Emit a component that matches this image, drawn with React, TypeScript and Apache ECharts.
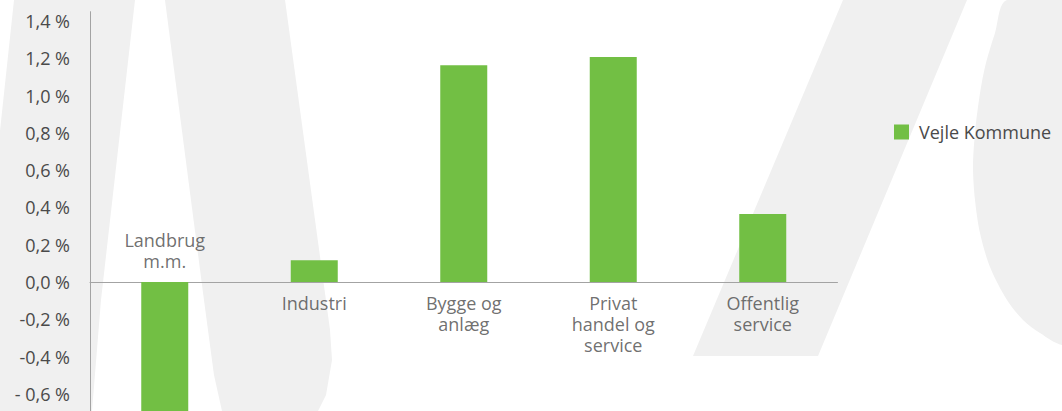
import React, { useEffect, useRef } from "react";
import * as echarts from "echarts";

const categories = ["Landbrug\nm.m.", "Industri", "Bygge og\nanlæg", "Privat\nhandel og\nservice", "Offentlig\nservice"];
const seriesName = "Vejle Kommune";
const values = [-0.76, 0.116, 1.163, 1.207, 0.365];
const yTickValues = [-0.6, -0.4, -0.2, 0.0, 0.2, 0.4, 0.6, 0.8, 1.0, 1.2, 1.4];
const yTickLabels = ["- 0,6 %", "-0,4 %", "-0,2 %", "0,0 %", "0,2 %", "0,4 %", "0,6 %", "0,8 %", "1,0 %", "1,2 %", "1,4 %"];

const FONT = "'Open Sans', 'Noto Sans', sans-serif";
const TEXT = "#4a4a4a";
const GREEN = "#72bf44";
const AXIS = "#a3a3a3";
const WM = "#f0f0f0";

export default function App() {
  const ref = useRef<HTMLDivElement>(null);
  useEffect(() => {
    if (!ref.current) return;
    const chart = echarts.init(ref.current, null, { renderer: "svg" });
    const wmStyle = { fill: WM };
    chart.setOption({
      animation: false,
      backgroundColor: "#ffffff",
      textStyle: { fontFamily: FONT },
      graphic: [
        { type: "polygon", z: -10, silent: true, shape: { points: [[14, 0], [135, 0], [101, 300], [92, 411], [-30, 411]] }, style: wmStyle },
        {
          type: "polygon", z: -10, silent: true,
          shape: { points: [[165, 0], [285, 0], [330, 330], [332, 360], [326, 395], [318, 411], [222, 411], [214, 375], [204, 300]] },
          style: wmStyle,
        },
        { type: "polygon", z: -10, silent: true, shape: { points: [[843, 0], [967, 0], [818, 356], [693, 356]] }, style: wmStyle },
        {
          type: "polygon", z: -10, silent: true,
          shape: {
            smooth: 0.3,
            points: [[1007, 0], [995, 33], [985, 67], [979, 100], [975, 133], [973, 167], [975, 200], [980, 233], [990, 267], [1007, 300], [1023, 320], [1040, 333], [1062, 345], [1100, 345], [1100, 0]],
          },
          style: wmStyle,
        },
      ],
      legend: {
        data: [seriesName],
        left: 894,
        top: 123,
        padding: 0,
        itemWidth: 15,
        itemHeight: 15,
        icon: "rect",
        textStyle: { fontSize: 18, color: TEXT, fontFamily: FONT, padding: [0, 0, 0, 5] },
      },
      grid: { left: 90, right: 224.5, top: 11.7, bottom: 8.9, containLabel: false },
      xAxis: {
        type: "category",
        data: categories,
        axisLine: { show: true, onZero: true, lineStyle: { color: AXIS, width: 1 } },
        axisTick: { show: false },
        axisLabel: { show: false },
        splitLine: { show: false },
      },
      yAxis: {
        type: "value",
        min: -0.8,
        max: 1.45,
        interval: 0.2,
        axisLine: { show: true, lineStyle: { color: AXIS, width: 1 } },
        axisTick: { show: false },
        splitLine: { show: false },
        axisLabel: {
          margin: 20,
          fontSize: 18,
          color: TEXT,
          fontFamily: FONT,
          formatter: (v: number) => {
            const i = yTickValues.findIndex((t) => Math.abs(t - v) < 1e-6);
            return i >= 0 ? yTickLabels[i] : "";
          },
        },
      },
      series: [
        {
          name: seriesName,
          type: "bar",
          data: values,
          barWidth: 47,
          itemStyle: { color: GREEN },
        },
        {
          name: "labels",
          type: "scatter",
          silent: true,
          symbolSize: 1,
          itemStyle: { color: "rgba(0,0,0,0)" },
          data: categories.map((c, i) => ({
            value: [c, 0],
            label: {
              show: true,
              position: values[i] < 0 ? "top" : "bottom",
              distance: values[i] < 0 ? 10 : 10,
              formatter: c,
              fontSize: 18,
              lineHeight: 21,
              color: TEXT,
              fontFamily: FONT,
              align: "center",
            },
          })),
        },
      ],
    });
    return () => chart.dispose();
  }, []);
  return <div ref={ref} style={{ position: "fixed", left: 0, top: 0, width: 1062, height: 440 }} />;
}
